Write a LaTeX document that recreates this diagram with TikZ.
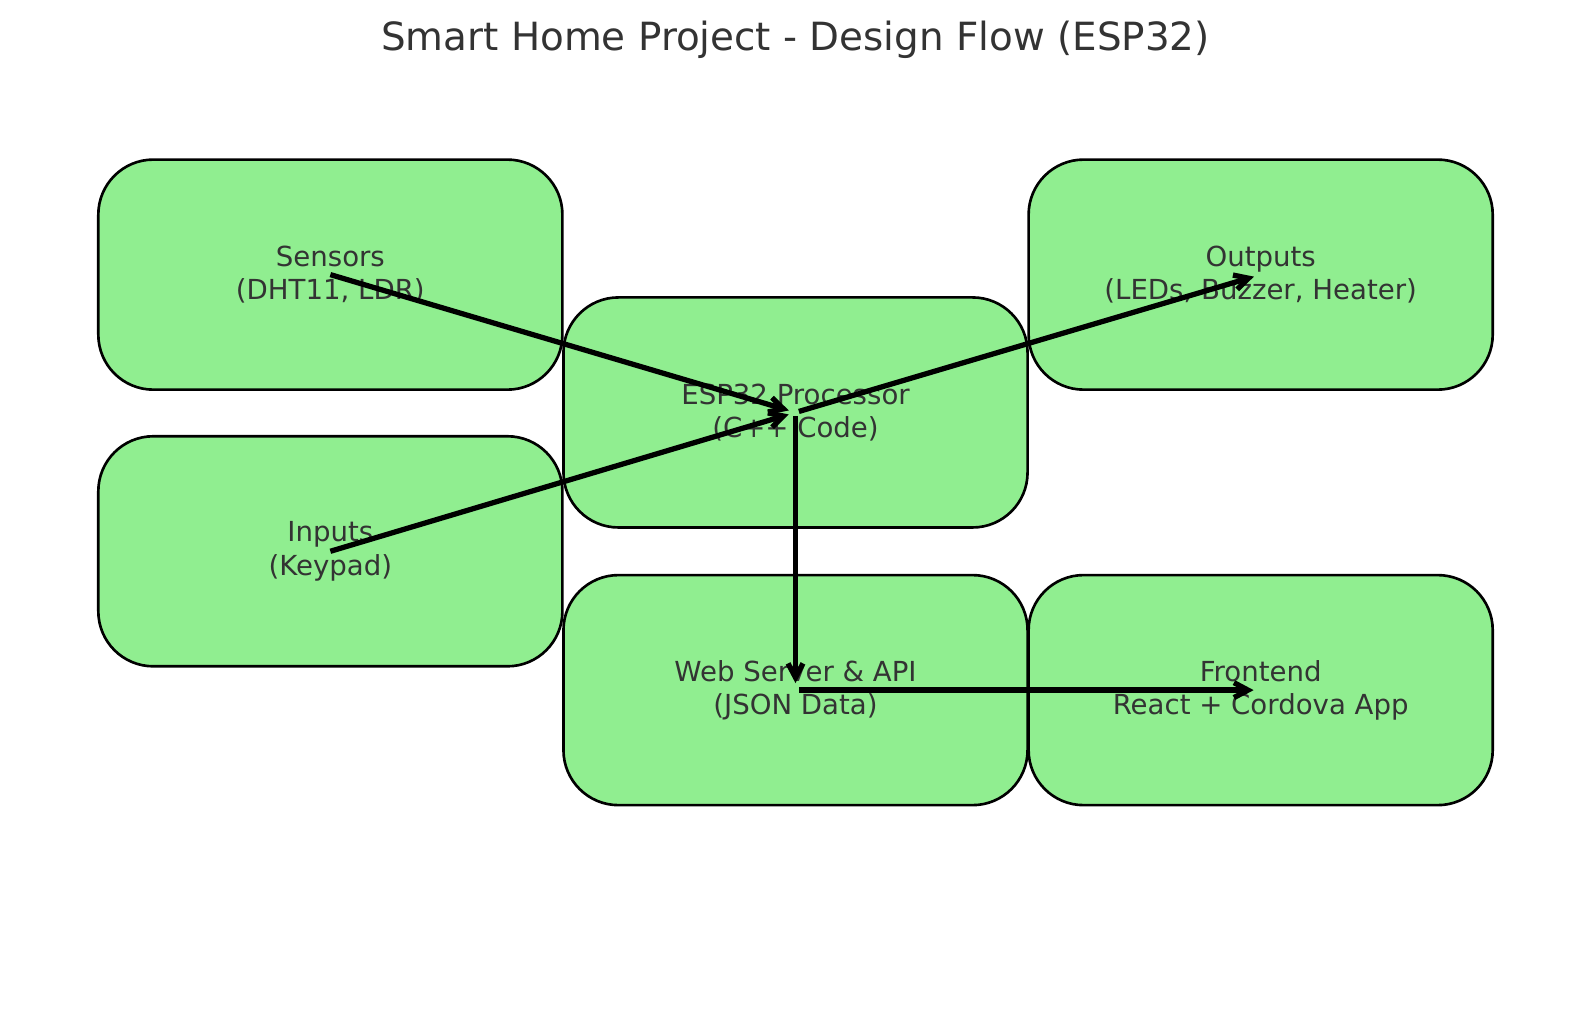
\documentclass[tikz,border=0pt]{standalone}
\usepackage{fontspec}
\usetikzlibrary{arrows.meta}
\setmainfont{DejaVu Sans}
\definecolor{boxgreen}{HTML}{90EE90}
\definecolor{textgray}{HTML}{333333}
\begin{document}
\begin{tikzpicture}[x=0.02027cm,y=-0.02027cm,
  stage/.style={draw=black, fill=boxgreen, line width=1.5pt, rounded corners=1.1cm,
    minimum width=9.28cm, minimum height=4.6cm, align=center, text=textgray,
    font=\fontsize{15.7}{18.9}\selectfont},
  flow/.style={-{Straight Barb[length=8pt, width=8.5pt]}, line width=3pt, shorten >=4pt}]
\useasboundingbox (0,0) rectangle (1568,996.7);
\node[text=textgray, font=\fontsize{22.1}{26}\selectfont] (title) at (785,39) {Smart Home Project - Design Flow (ESP32)};
\node[stage] (sensors) at (326,271) {Sensors\\(DHT11, LDR)};
\node[stage] (inputs) at (326,544) {Inputs\\(Keypad)};
\node[stage] (esp) at (785,407) {ESP32 Processor\\(C++ Code)};
\node[stage] (outputs) at (1244,271) {Outputs\\(LEDs, Buzzer, Heater)};
\node[stage] (web) at (785,681) {Web Server \& API\\(JSON Data)};
\node[stage] (front) at (1244,681) {Frontend\\React + Cordova App};
\draw[flow] (sensors.center) -- (esp.center);
\draw[flow] (inputs.center) -- (esp.center);
\draw[flow, shorten <=2pt] (esp.center) -- (outputs.center);
\draw[flow, shorten <=2pt] (esp.center) -- (web.center);
\draw[flow, shorten <=2pt] (web.center) -- (front.center);
\end{tikzpicture}
\end{document}
